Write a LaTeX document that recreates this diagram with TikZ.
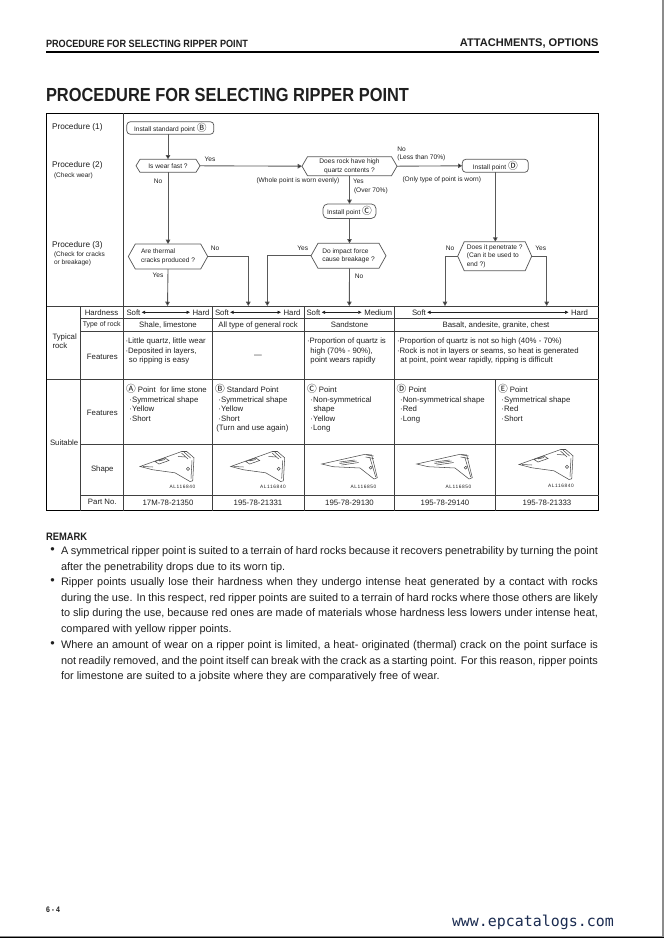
\documentclass[tikz,border=0pt]{standalone}
\usepackage{fontspec}
\usetikzlibrary{arrows.meta}
\setmainfont{Liberation Sans}
\newfontfamily\circfont{Noto Sans CJK SC}
\newfontfamily\titlefont[FakeStretch=0.867]{Liberation Sans Bold}
\newfontfamily\webfont{DejaVu Sans Mono}
\definecolor{ink}{gray}{0.12}
\definecolor{rulec}{gray}{0.25}
\definecolor{flowc}{gray}{0.35}
\definecolor{webc}{HTML}{1A2B50}
\newcommand{\sz}[1]{\fontsize{#1}{#1}\selectfont}
\newcommand{\cc}[1]{{\circfont\fontsize{7.3}{7.3}\selectfont #1}}
\newcommand{\tightsp}{\spaceskip=0.278em plus 1em minus 0.115em\relax}
\tikzset{
  x=0.75pt,y=-0.75pt,
  every node/.style={inner sep=0pt,outer sep=0pt,text=ink},
  flow/.style={draw=flowc,line width=0.65pt,-{Triangle[length=3.2pt,width=3.4pt,fill=black]}},
  gridline/.style={draw=rulec,line width=0.75pt},
  arrowline/.style={draw=ink,line width=0.45pt,{Triangle[length=2.5pt,width=2.3pt]}-{Triangle[length=2.5pt,width=2.3pt]}},
  pill/.style 2 args={draw=flowc,line width=0.55pt,rounded corners=2.6pt,minimum width=#1*0.75pt,minimum height=#2*0.75pt,font=\sz{4.95}},
  hexbox/.style n args={3}{minimum width=#1*0.75pt,minimum height=#2*0.75pt,font=\sz{4.95},align=left,
    append after command={\pgfextra{\draw[draw=flowc,line width=0.55pt]
      (\tikzlastnode.west) -- ([xshift=#3*0.75pt]\tikzlastnode.north west) -- ([xshift=-#3*0.75pt]\tikzlastnode.north east)
      -- (\tikzlastnode.east) -- ([xshift=-#3*0.75pt]\tikzlastnode.south east) -- ([xshift=#3*0.75pt]\tikzlastnode.south west) -- cycle;}}},
  small/.style={font=\sz{4.95}},
  proc/.style={font=\sz{6.2}},
  note/.style={font=\fontsize{4.9}{6}\selectfont,align=left},
  cell/.style={font=\fontsize{5.85}{7.2}\selectfont,align=left,anchor=north west},
  center cell/.style={font=\sz{5.85}},
  pointline/.style={draw=black!70,line width=0.4pt},
  code/.style={font=\sz{3.6}\addfontfeature{LetterSpace=12}},
  body/.style={font=\fontsize{8.2}{11.7}\selectfont,align=justify,text width=537*0.75pt,anchor=north west},
  bulletmark/.style={font=\sz{9.5}},
  pics/sympoint/.style={code={
    \draw[pointline,fill=white] (0,0) -- (41.7,-15) -- (46.7,-15) -- (54,-8.7) -- (52.7,14.3) -- (50,15) -- (35,6.3) -- (13,3.3) -- cycle;
    \draw[pointline] (44,-14.5) -- (50.5,-8.5) (41.5,-13.5) -- (48,-7.5) (38,-10) -- (46,-9.5);
    \draw[pointline] (15,-5) -- (25,-8.5) -- (29,-6) -- (19,-2.5) -- cycle (19,-5.5) -- (25,-7);
    \draw[pointline] (48,2.3) circle (1.6);
    \draw[pointline] (3,0) -- (13,0.5) (52,-6) -- (51,12);
  }},
  pics/asympoint/.style={code={
    \draw[pointline,fill=white] (0,0) -- (43.3,-9.7) -- (50,-9) -- (55.6,13.7) -- (52.3,15) -- (38.3,4) -- (11.3,2.7) -- cycle;
    \draw[pointline] (45,-9) -- (52,-8) (44,-7) -- (52,-5.5);
    \draw[pointline] (18,-2) -- (33,-4) (18,-0.5) -- (35,-3) (20,1) -- (37,-1.5);
    \draw[pointline] (49,3.7) circle (1.4);
    \draw[pointline] (48,-7) -- (54,13);
  }},
}
\begin{document}
\begin{tikzpicture}
\useasboundingbox (0,0) rectangle (664,938);
% page edge
\fill[black!45] (661.5,0) rectangle (664,938);
\fill[black!45] (0,935.5) rectangle (664,937);
\fill[black] (0,937) rectangle (664,938);
% header
\node[anchor=west,font=\titlefont\sz{7.9}] (hdl) at (46,44) {PROCEDURE FOR SELECTING RIPPER POINT};
\node[anchor=east,font=\bfseries\sz{8.3}] (hdr) at (598.5,43) {ATTACHMENTS, OPTIONS};
\draw[black,line width=1.3pt] (46,52) -- (598.5,52);
\node[anchor=west,font=\titlefont\sz{14.2}] (title) at (46,95) {PROCEDURE FOR SELECTING RIPPER POINT};
% frame and table grid
\draw[black,line width=0.85pt] (46.5,113.5) rectangle (598.5,510.5);
\draw[gridline] (123,113.5) -- (123,510.5);
\draw[gridline] (46.5,306.5) -- (598.5,306.5);
\draw[gridline] (80,306.5) -- (80,510.5);
\draw[gridline] (80,318.5) -- (598.5,318.5);
\draw[gridline] (80,331.5) -- (598.5,331.5);
\draw[gridline] (46.5,379) -- (598.5,379);
\draw[gridline] (80,444) -- (598.5,444);
\draw[gridline] (80,495) -- (598.5,495);
\draw[gridline] (212.5,306.5) -- (212.5,510.5);
\draw[gridline] (304,306.5) -- (304,510.5);
\draw[gridline] (394.5,306.5) -- (394.5,510.5);
\draw[gridline] (495.7,379) -- (495.7,510.5);
% procedure column
\node[proc,anchor=west] (p1) at (52,127) {Procedure (1)};
\node[proc,anchor=west] (p2) at (52,165) {Procedure (2)};
\node[note,anchor=west] (p2n) at (54,175.5) {(Check wear)};
\node[proc,anchor=west] (p3) at (52,245) {Procedure (3)};
\node[note,anchor=north west] (p3n) at (54,251.5) {(Check for cracks\\or breakage)};
% flow nodes
\node[pill={87}{12.5}] (instB) at (170.3,128) {Install standard point \cc{Ⓑ}};
\node[hexbox={64}{13}{4}] (wear) at (168,165.8) {Is wear fast ?};
\node[hexbox={95}{19}{5.5},align=center] (quartz) at (349.5,166.2) {Does rock have high\\[1.5pt]quartz contents ?};
\node[pill={66}{13}] (instD) at (495.3,165.8) {Install point \cc{Ⓓ}};
\node[pill={53}{14.5},rounded corners=3.5pt] (instC) at (349.5,211.2) {Install point \cc{Ⓒ}};
\node[hexbox={79.4}{25}{7}] (thermal) at (168,256.5) {Are thermal\\[1.5pt]cracks produced ?};
\node[hexbox={75}{25}{7}] (impact) at (348.5,255.8) {Do impact force\\[1.5pt]cause breakage ?};
\node[hexbox={74}{29}{6.5}] (pen) at (494.7,256.2) {Does it penetrate ?\\[1.2pt](Can it be used to\\[1.2pt]end ?)};
\coordinate (endA) at (167.5,306);
\coordinate (endB1) at (248.3,306);
\coordinate (endB2) at (267.3,306);
\coordinate (endC) at (349.3,306);
\coordinate (endD1) at (445,306);
\coordinate (endD2) at (546.7,306);
% connectors
\draw[flow] (wear |- instB.south) -- (wear.north);
\draw[flow] (wear.east) -- (quartz.west);
\draw[flow] (quartz.east) -- (instD.west);
\draw[flow] (wear.south) -- (thermal.north);
\draw[flow] (quartz.south) -- (instC.north);
\draw[flow] (instC.south) -- (instC.south |- impact.north);
\draw[flow] (instD.south) -- (instD.south |- pen.north);
\draw[flow] (thermal.south) -- (endA);
\draw[flow] (thermal.east) -| (endB1);
\draw[flow] (impact.west) -| (endB2);
\draw[flow] (instC.south |- impact.south) -- (endC);
\draw[flow] (pen.west) -| (endD1);
\draw[flow] (pen.east) -| (endD2);
% flow labels
\node[small] (l1) at (210,159.5) {Yes};
\node[small] (l2) at (158,181) {No};
\node[small,anchor=west] (l3) at (256.5,181) {(Whole point is worn evenly)};
\node[small,anchor=west] (l4) at (353,181.5) {Yes};
\node[small,anchor=west] (l5) at (354,191) {(Over 70\%)};
\node[small,anchor=west] (l6) at (397.3,149.3) {No};
\node[small,anchor=west] (l7) at (397.3,157.7) {(Less than 70\%)};
\node[small,anchor=west] (l8) at (402.5,179.5) {(Only type of point is worn)};
\node[small] (l9) at (215,248) {No};
\node[small] (l10) at (302.7,248) {Yes};
\node[small] (l11) at (158,275.7) {Yes};
\node[small] (l12) at (359,276) {No};
\node[small] (l13) at (450,248) {No};
\node[small] (l14) at (540.7,248) {Yes};
% table left labels
\node[center cell] (hard) at (101.5,312.3) {Hardness};
\node[center cell,font=\sz{5.2}] (typer) at (101.7,325) {Type of rock};
\node[center cell] (feat1) at (102.3,356.5) {Features};
\node[center cell,align=left,anchor=north west,font=\fontsize{5.85}{7.2}\selectfont] (typ) at (52.5,333.5) {Typical\\rock};
\node[center cell,anchor=west] (suit) at (50,443) {Suitable};
\node[center cell] (feat2) at (102.3,412.7) {Features};
\node[center cell] (shape) at (102.3,469.3) {Shape};
\node[center cell] (part) at (102.3,502.3) {Part No.};
% hardness row
\node[center cell,anchor=west] (s1) at (126.5,312.3) {Soft};
\node[center cell,anchor=east] (h1) at (209.5,312.3) {Hard};
\draw[arrowline,shorten <=1pt,shorten >=2pt] (s1) -- (h1);
\node[center cell,anchor=west] (s2) at (215,312.3) {Soft};
\node[center cell,anchor=east] (h2) at (300.5,312.3) {Hard};
\draw[arrowline,shorten <=1pt,shorten >=2pt] (s2) -- (h2);
\node[center cell,anchor=west] (s3) at (306.5,312.3) {Soft};
\node[center cell,anchor=east] (h3) at (392,312.3) {Medium};
\draw[arrowline,shorten <=1pt,shorten >=2pt] (s3) -- (h3);
\node[center cell,anchor=west] (s4) at (412,312.3) {Soft};
\node[center cell,anchor=east] (h4) at (588,312.3) {Hard};
\draw[arrowline,shorten <=1pt,shorten >=2pt] (s4) -- (h4);
% type row
\node[center cell] (t1) at (168,325) {Shale, limestone};
\node[center cell] (t2) at (258,325) {All type of general rock};
\node[center cell] (t3) at (349.5,325) {Sandstone};
\node[center cell] (t4) at (496,325) {Basalt, andesite, granite, chest};
% features rows
\node[cell] (f1) at (125.5,336.8) {\strut·Little quartz, little wear\\·Deposited in layers,\\\ \,so ripping is easy};
\node[center cell] (f2) at (258,356) {---};
\node[cell] (f3) at (307,336.8) {\strut·Proportion of quartz is\\\ \,high (70\% - 90\%),\\\ \,point wears rapidly};
\node[cell] (f4) at (397,336.8) {\strut·Proportion of quartz is not so high (40\% - 70\%)\\·Rock is not in layers or seams, so heat is generated\\\ \,at point, point wear rapidly, ripping is difficult};
\node[cell] (a) at (126,384.3) {\strut\cc{Ⓐ} Point\ \ for lime stone\\\ \,·Symmetrical shape\\\ \,·Yellow\\\ \,·Short};
\node[cell] (b) at (215,384.3) {\strut\cc{Ⓑ} Standard Point\\\ \,·Symmetrical shape\\\ \,·Yellow\\\ \,·Short\\\,(Turn and use again)};
\node[cell] (c) at (307,384.3) {\strut\cc{Ⓒ} Point\\\ \,·Non-symmetrical\\\ \ \ shape\\\ \,·Yellow\\\ \,·Long};
\node[cell] (d) at (396.7,384.3) {\strut\cc{Ⓓ} Point\\\ \,·Non-symmetrical shape\\\ \,·Red\\\ \,·Long};
\node[cell] (e) at (498,384.3) {\strut\cc{Ⓔ} Point\\\ \,·Symmetrical shape\\\ \,·Red\\\ \,·Short};
% shapes
\pic at (140,466.5) {sympoint};
\node[code] (c1) at (182.5,487) {AL116840};
\pic at (230.7,466.5) {sympoint};
\node[code] (c2) at (273,487) {AL116840};
\pic at (321.7,464) {asympoint};
\node[code] (c3) at (363.5,487) {AL116850};
\pic at (416.7,464) {asympoint};
\node[code] (c4) at (458.5,487) {AL116850};
\pic at (519,464.5) {sympoint};
\node[code] (c5) at (561,486) {AL116840};
% part numbers
\node[center cell] (n1) at (168,502.5) {17M-78-21350};
\node[center cell] (n2) at (258,502.5) {195-78-21331};
\node[center cell] (n3) at (349.5,502.5) {195-78-29130};
\node[center cell] (n4) at (445,502.5) {195-78-29140};
\node[center cell] (n5) at (547,502.5) {195-78-21333};
% remark
\node[anchor=west,font=\titlefont\sz{8.1}] (rem) at (46,537) {REMARK};
\node[bulletmark] (b1) at (52.5,550.5) {•};
\node[body] (r1) at (61,546.5) {\tightsp A symmetrical ripper point is suited to a terrain of hard rocks because it recovers penetrability by turning the point\linebreak after the penetrability drops due to its worn tip.};
\node[bulletmark] (b2) at (52.5,581.5) {•};
\node[body] (r2) at (61,577.5) {\tightsp Ripper points usually lose their hardness when they undergo intense heat generated by a contact with rocks\linebreak during the use. In this respect, red ripper points are suited to a terrain of hard rocks where those others are likely\linebreak to slip during the use, because red ones are made of materials whose hardness less lowers under intense heat,\linebreak compared with yellow ripper points.};
\node[bulletmark] (b3) at (52.5,644.5) {•};
\node[body] (r3) at (61,640.5) {\tightsp Where an amount of wear on a ripper point is limited, a heat- originated (thermal) crack on the point surface is\linebreak not readily removed, and the point itself can break with the crack as a starting point. For this reason, ripper points\linebreak for limestone are suited to a jobsite where they are comparatively free of wear.};
% footer
\node[anchor=west,font=\titlefont\sz{6}] (pg) at (46,910) {6 - 4};
\node[anchor=west,text=webc,font=\webfont\sz{11.2}] (web) at (452,922) {www.epcatalogs.com};
\end{tikzpicture}
\end{document}
